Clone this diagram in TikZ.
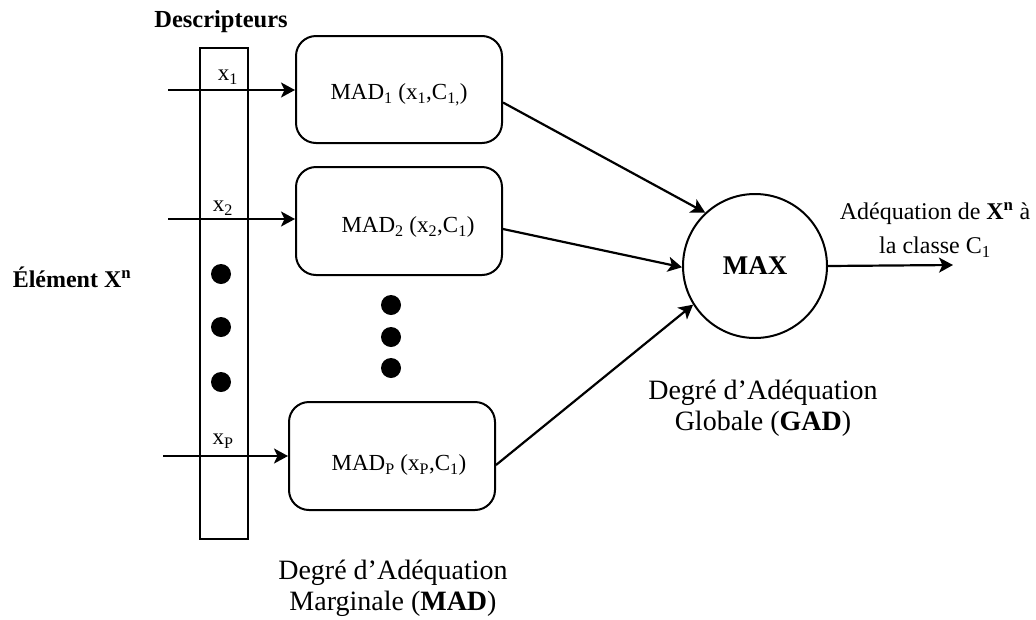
\documentclass[tikz,border=0pt]{standalone}
\usepackage{fontspec}
\setmainfont{Liberation Serif}
\usetikzlibrary{arrows.meta}

\tikzset{
    madbox/.style={draw, rounded corners=20pt, minimum width=206pt, minimum height=107pt, line width=2pt,
        font=\fontsize{23}{26}\selectfont},
    arr/.style={-{Stealth[length=14pt,width=15pt,inset=3.5pt]}, line width=2.2pt},
    lbl/.style={font=\fontsize{23}{26}\selectfont, inner sep=0pt},
    caption/.style={font=\fontsize{28}{31}\selectfont, align=center, inner sep=0pt},
}

\begin{document}
\begin{tikzpicture}[x=1pt, y=-1pt]
    \useasboundingbox (0,0) rectangle (1036,619);

    % Descriptor column
    \node[lbl, font=\fontsize{24.5}{26}\selectfont\bfseries] (desc) at (221,22) {Descripteurs};
    \node[draw, line width=2pt, minimum width=48pt, minimum height=491pt, inner sep=0pt] (col) at (224,293.5) {};
    \foreach \y in {274,327,382}
        \fill (221,\y) circle (10);

    \node[lbl, font=\fontsize{24}{26}\selectfont\bfseries] (elem) at (72,277) {Élément X\textsuperscript{n}};

    % Marginal adequacy boxes
    \node[madbox, label={[lbl, yshift=-5pt]center:MAD\textsubscript{1} (x\textsubscript{1},C\textsubscript{1,})}] (mad1) at (399,89.5) {};
    \node[madbox, minimum height=108pt, label={[lbl, xshift=9pt, yshift=-6pt]center:MAD\textsubscript{2} (x\textsubscript{2},C\textsubscript{1})}] (mad2) at (399,221) {};
    \node[madbox, minimum height=108pt, label={[lbl, xshift=7pt, yshift=-9pt]center:MAD\textsubscript{P} (x\textsubscript{P},C\textsubscript{1})}] (madp) at (392,456) {};
    \foreach \y in {305,337,368}
        \fill (391,\y) circle (10);

    % Inputs
    \coordinate (in1) at (168,90);
    \coordinate (in2) at (168,219);
    \coordinate (inp) at (163,456);
    \draw[arr] (in1) -- (in1 -| mad1.west);
    \draw[arr] (in2) -- (in2 -| mad2.west);
    \draw[arr] (inp) -- (inp -| madp.west);
    \node[lbl] (x1) at (228,77) {x\textsubscript{1}};
    \node[lbl] (x2) at (223,208) {x\textsubscript{2}};
    \node[lbl] (xp) at (223,441) {x\textsubscript{P}};

    % Global adequacy
    \node[draw, circle, line width=2pt, minimum size=144pt, inner sep=0pt, font=\fontsize{27}{30}\selectfont\bfseries] (max) at (755,266) {MAX};
    \draw[arr] ([yshift=-13pt]mad1.east) -- (max.133);
    \draw[arr] ([yshift=-8pt]mad2.east) -- (max.181);
    \draw[arr] ([yshift=-9pt]madp.east) -- (max.212);

    \coordinate (out) at (953,265);
    \draw[arr] (max.east) -- (out);
    \node[lbl, align=center, font=\fontsize{24}{34}\selectfont] (res) at (935,230)
        {Adéquation de \textbf{X\textsuperscript{n}} à\\la classe C\textsubscript{1}};

    % Captions
    \node[caption] (gad) at (763,408) {Degré d'Adéquation\\Globale (\textbf{GAD})};
    \node[caption] (madcap) at (393,588) {Degré d'Adéquation\\Marginale (\textbf{MAD})};
\end{tikzpicture}
\end{document}
